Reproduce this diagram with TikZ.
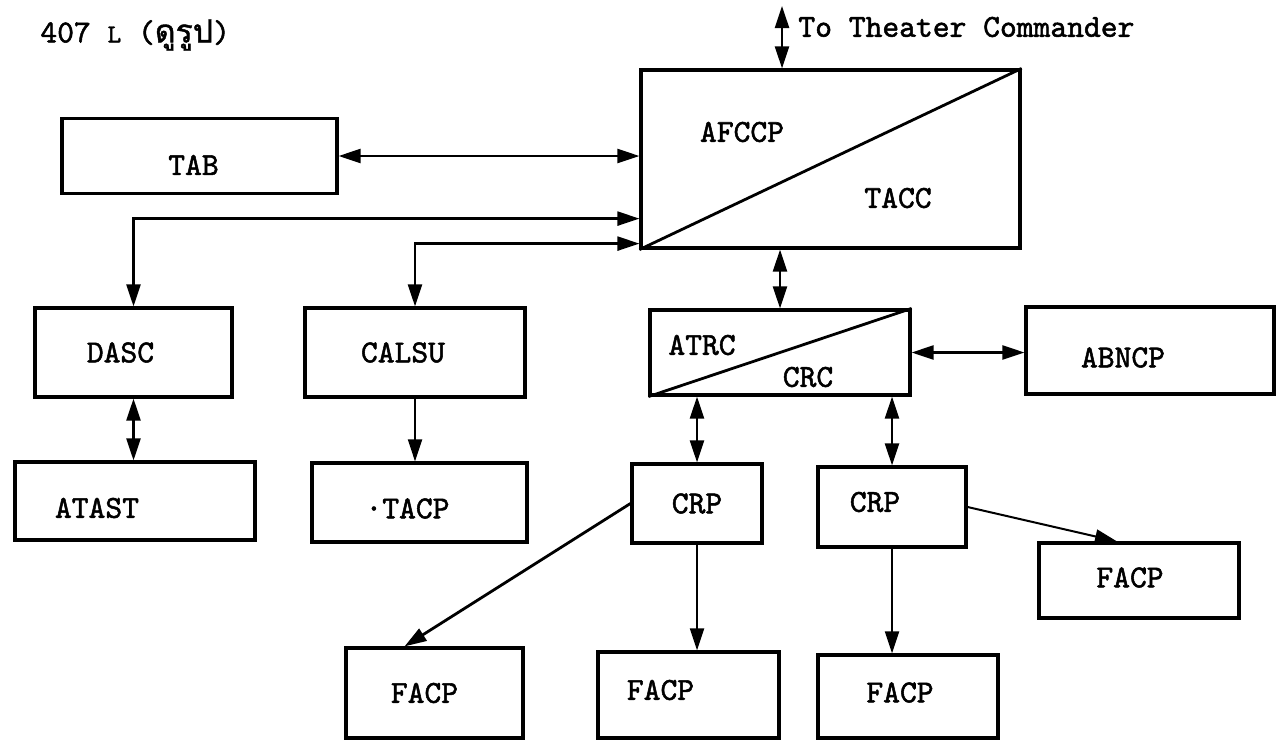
\documentclass[tikz,border=0pt]{standalone}
\usepackage{fontspec}
\newfontfamily\typewr{lmmono10-regular.otf}[FakeBold=1.6]
\newfontfamily\thaifont[Script=Thai,FakeBold=1.2]{Loma}
\usetikzlibrary{arrows.meta}

\begin{document}
\begin{tikzpicture}[x=0.5pt,y=-0.5pt,
    box/.style={draw,line width=1.6pt,inner sep=0pt},
    lbl/.style={inner sep=0pt,font=\typewr\fontsize{16}{18}\selectfont},
    link/.style={line width=1.2pt,{Triangle[length=11pt,width=7pt]}-{Triangle[length=11pt,width=7pt]}},
    feed/.style={line width=1pt,-{Triangle[length=11pt,width=7pt]}}]
  \useasboundingbox (0,0) rectangle (1277,740);

  \node[lbl,anchor=west] (title) at (40,35) {407 {\fontsize{13}{15}\selectfont L} ({\thaifont ดูรูป})};
  \coordinate (theater) at (782,6);
  \node[lbl,anchor=west] (theatertxt) at (798,27) {To Theater Commander};

  % command level
  \node[box,minimum width=189.5pt,minimum height=89pt] (afccp) at (830.5,159) {};
  \draw[line width=1.4pt] (afccp.south west) -- (afccp.north east);
  \node[lbl] (afccptxt) at (742,132) {AFCCP};
  \node[lbl] (tacctxt) at (898,198) {TACC};
  \node[box,minimum width=137.5pt,minimum height=37.5pt,label={[lbl,xshift=-3pt,yshift=-4.5pt]center:TAB}] (tab) at (199.5,156) {};

  % left branch
  \node[box,minimum width=98.5pt,minimum height=44.5pt,label={[lbl,xshift=-6.5pt]center:DASC}] (dasc) at (133.5,352.5) {};
  \node[box,minimum width=120pt,minimum height=39pt,label={[lbl,xshift=-19pt,yshift=-3.5pt]center:ATAST}] (atast) at (135,501) {};
  \node[box,minimum width=110pt,minimum height=44.5pt,label={[lbl,xshift=-6pt]center:CALSU}] (calsu) at (415,352.5) {};
  \node[box,minimum width=107.5pt,minimum height=39.5pt,label={[lbl,xshift=-6pt,yshift=-3pt]center:·TACP}] (tacp) at (419.5,502.5) {};

  % control and reporting
  \node[box,minimum width=130pt,minimum height=42.5pt] (atrc) at (780,352.5) {};
  \draw[line width=1.4pt] (atrc.south west) -- (atrc.north east);
  \node[lbl] (atrctxt) at (702,345) {ATRC};
  \node[lbl] (crctxt) at (808,377) {CRC};
  \node[box,minimum width=124pt,minimum height=43.5pt,label={[lbl,xshift=-13.5pt,yshift=-3.5pt]center:ABNCP}] (abncp) at (1150,350.5) {};
  \node[box,minimum width=65pt,minimum height=39.5pt,label={[lbl]center:CRP}] (crp1) at (697,503.5) {};
  \node[box,minimum width=74pt,minimum height=40pt,label={[lbl,xshift=-8.5pt,yshift=2.5pt]center:CRP}] (crp2) at (892,507) {};
  \node[box,minimum width=88.5pt,minimum height=45pt,label={[lbl,xshift=-5pt]center:FACP}] (facp1) at (434.5,693) {};
  \node[box,minimum width=90.5pt,minimum height=43pt,label={[lbl,xshift=-14pt,yshift=2.5pt]center:FACP}] (facp2) at (688.5,695) {};
  \node[box,minimum width=90pt,minimum height=41.5pt,label={[lbl,xshift=-4pt,yshift=2pt]center:FACP}] (facp3) at (908,696.5) {};
  \node[box,minimum width=100pt,minimum height=37.5pt,label={[lbl,xshift=-4.5pt,yshift=1.5pt]center:FACP}] (facp4) at (1139,580.5) {};

  % connections
  \draw[link] (theater) -- (theater |- afccp.north);
  \draw[link] (tab.east) -- (tab.east -| afccp.west);
  \draw[link] ([yshift=15.5pt]afccp.south west) -| (dasc.north);
  \draw[link] ([yshift=3pt]afccp.south west) -| (calsu.north);
  \draw[link] (afccp.south -| atrc.north) -- (atrc.north);
  \draw[link] (atrc.east) -- (atrc.east -| abncp.west);
  \draw[link] (dasc.south) -- (dasc.south |- atast.north);
  \draw[feed] (calsu.south) -- (calsu.south |- tacp.north);
  \draw[link] (atrc.south -| crp1.north) -- (crp1.north);
  \draw[link] (atrc.south -| crp2.north) -- (crp2.north);
  \draw[feed,line width=1.4pt] (crp1.west) -- ([xshift=-15pt]facp1.north);
  \draw[feed] (crp1.south) -- (crp1.south |- facp2.north);
  \draw[feed] (crp2.south) -- (crp2.south |- facp3.north);
  \draw[feed] (crp2.east) -- ([xshift=-11pt]facp4.north);
\end{tikzpicture}
\end{document}
